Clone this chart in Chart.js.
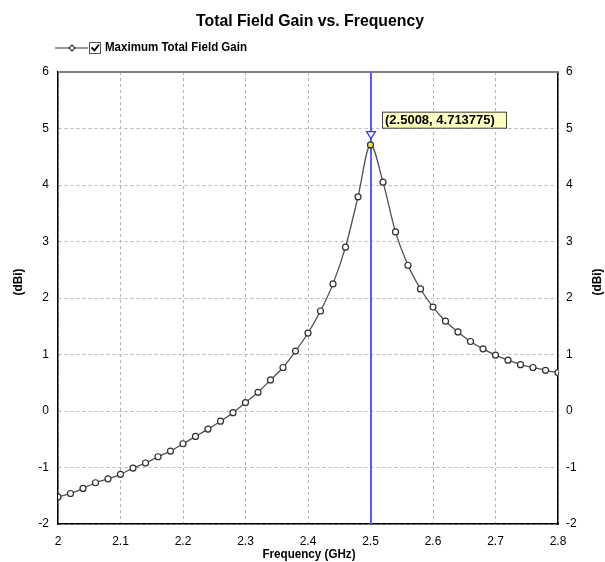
<!DOCTYPE html>
<html>
<head>
<meta charset="utf-8">
<script src="https://cdn.jsdelivr.net/npm/chart.js@4"></script>
<style>
  body { margin: 0; background: #fff; }
</style>
</head>
<body>
<canvas id="gainChart" width="605" height="562"></canvas>
<script>
// datos
var freqs = [2.00, 2.02, 2.04, 2.06, 2.08, 2.10, 2.12, 2.14, 2.16, 2.18,
             2.20, 2.22, 2.24, 2.26, 2.28, 2.30, 2.32, 2.34, 2.36, 2.38,
             2.40, 2.42, 2.44, 2.46, 2.48, 2.50, 2.52, 2.54, 2.56, 2.58,
             2.60, 2.62, 2.64, 2.66, 2.68, 2.70, 2.72, 2.74, 2.76, 2.78, 2.80];
var gain = [-1.52, -1.46, -1.37, -1.27, -1.20, -1.12, -1.01, -0.92, -0.81, -0.71,
            -0.58, -0.45, -0.32, -0.18, -0.03, 0.15, 0.33, 0.55, 0.77, 1.06,
            1.38, 1.77, 2.25, 2.90, 3.79, 4.71, 4.05, 3.17, 2.58, 2.16,
            1.84, 1.59, 1.40, 1.23, 1.10, 0.99, 0.90, 0.82, 0.77, 0.72, 0.68];
var xTicks = [2, 2.1, 2.2, 2.3, 2.4, 2.5, 2.6, 2.7, 2.8];
var yTicks = [-2, -1, 0, 1, 2, 3, 4, 5, 6];
var markerX = [2.5008];
var markerY = [4.713775];
var peakIndex = 25;

var puntos = freqs.map(function (f, i) { return { x: f, y: gain[i] }; });

// texto angosto (la fuente original es condensada)
function textoAngosto(ctx, txt, x, y, ancho, align) {
    var w = ctx.measureText(txt).width;
    var k = Math.min(1, ancho / w);
    ctx.save();
    ctx.translate(x, y);
    ctx.scale(k, 1);
    ctx.textAlign = align;
    ctx.fillText(txt, 0, 0);
    ctx.restore();
}

// dibujo de titulo, leyenda, marcador, etc.
var extras = {
    id: 'extras',
    beforeDatasetsDraw: function (chart) {
        var ctx = chart.ctx, a = chart.chartArea;
        var mx = chart.scales.x.getPixelForValue(markerX[0]);
        ctx.save();
        // borde superior gris
        ctx.strokeStyle = '#808080';
        ctx.lineWidth = 2;
        ctx.beginPath();
        ctx.moveTo(a.left, a.top);
        ctx.lineTo(a.right, a.top);
        ctx.stroke();
        // linea vertical del marcador
        ctx.strokeStyle = '#5a5aff';
        ctx.lineWidth = 2;
        ctx.beginPath();
        ctx.moveTo(mx, a.top);
        ctx.lineTo(mx, a.bottom);
        ctx.stroke();
        ctx.restore();
    },
    afterDatasetsDraw: function (chart) {
        var ctx = chart.ctx;
        var mx = chart.scales.x.getPixelForValue(markerX[0]);
        var my = chart.scales.y.getPixelForValue(markerY[0]);
        ctx.save();
        // triangulo
        ctx.strokeStyle = '#3030ff';
        ctx.fillStyle = '#ffffff';
        ctx.lineWidth = 1.2;
        ctx.beginPath();
        ctx.moveTo(mx - 4.5, my - 13);
        ctx.lineTo(mx + 4.5, my - 13);
        ctx.lineTo(mx, my - 6);
        ctx.closePath();
        ctx.fill();
        ctx.stroke();
        // etiqueta amarilla
        var txt = '(' + markerX[0] + ', ' + markerY[0] + ')';
        ctx.font = 'bold 13px Arial';
        var w = 124;
        var bx = mx + 11, by = my - 33;
        ctx.fillStyle = '#ffffc0';
        ctx.fillRect(bx, by, w, 16);
        ctx.strokeStyle = '#404040';
        ctx.lineWidth = 1;
        ctx.strokeRect(bx + 0.5, by + 0.5, w, 16);
        ctx.fillStyle = '#000';
        ctx.textBaseline = 'middle';
        textoAngosto(ctx, txt, bx + 3, by + 8.5, 118, 'left');
        ctx.restore();
    },
    afterDraw: function (chart) {
        var ctx = chart.ctx;
        ctx.save();
        ctx.fillStyle = '#000';
        ctx.textBaseline = 'alphabetic';
        // titulo
        ctx.font = 'bold 17px Arial';
        textoAngosto(ctx, 'Total Field Gain vs. Frequency', 310, 26, 228, 'center');
        ctx.textBaseline = 'middle';
        // titulo eje x
        ctx.font = 'bold 12px Arial';
        textoAngosto(ctx, 'Frequency (GHz)', 309, 555, 93, 'center');
        // titulos eje y
        ctx.save();
        ctx.translate(19, 282);
        ctx.rotate(-Math.PI / 2);
        textoAngosto(ctx, '(dBi)', 0, 0, 27, 'center');
        ctx.restore();
        ctx.save();
        ctx.translate(598, 282);
        ctx.rotate(-Math.PI / 2);
        textoAngosto(ctx, '(dBi)', 0, 0, 27, 'center');
        ctx.restore();
        // leyenda
        ctx.strokeStyle = '#333';
        ctx.lineWidth = 1.2;
        ctx.beginPath();
        ctx.moveTo(55, 48);
        ctx.lineTo(88, 48);
        ctx.stroke();
        ctx.fillStyle = '#fff';
        ctx.beginPath();
        ctx.moveTo(72, 45);
        ctx.lineTo(75, 48);
        ctx.lineTo(72, 51);
        ctx.lineTo(69, 48);
        ctx.closePath();
        ctx.fill();
        ctx.stroke();
        ctx.strokeStyle = '#555';
        ctx.lineWidth = 1;
        ctx.strokeRect(89.5, 42.5, 11, 11);
        ctx.strokeStyle = '#000';
        ctx.lineWidth = 1.8;
        ctx.beginPath();
        ctx.moveTo(91.5, 47.5);
        ctx.lineTo(94.5, 50.5);
        ctx.lineTo(99, 44.5);
        ctx.stroke();
        ctx.fillStyle = '#000';
        ctx.font = 'bold 12px Arial';
        textoAngosto(ctx, 'Maximum Total Field Gain', 105, 48, 142, 'left');
        ctx.restore();
    }
};

var fuenteTicks = { family: 'Arial', size: 12 };

var gainCtx = document.getElementById('gainChart').getContext('2d');
var gainChart = new Chart(gainCtx, {
    type: 'line',
    data: {
        datasets: [{
            label: 'Maximum Total Field Gain',
            data: puntos,
            borderColor: '#505050',
            borderWidth: 1.3,
            cubicInterpolationMode: 'monotone',
            pointRadius: 3,
            pointBorderWidth: 1.2,
            pointBorderColor: '#303030',
            pointBackgroundColor: function (c) {
                return c.dataIndex === peakIndex ? '#f0e040' : '#ffffff';
            },
            pointStyle: 'circle',
            yAxisID: 'y'
        }]
    },
    options: {
        responsive: false,
        animation: false,
        layout: { padding: { top: 72, left: 0, right: 0, bottom: 0 } },
        plugins: {
            legend: { display: false },
            title: { display: false },
            tooltip: { enabled: false }
        },
        scales: {
            x: {
                type: 'linear',
                min: 2,
                max: 2.8,
                afterFit: function (s) { s.height = 38; },
                afterBuildTicks: function (s) {
                    s.ticks = xTicks.map(function (v) { return { value: v }; });
                },
                grid: { color: '#b4b4b4', lineWidth: 1, drawTicks: false },
                border: { display: true, color: '#000', width: 1.5, dash: [3, 3] },
                ticks: {
                    color: '#000',
                    font: fuenteTicks,
                    padding: 10,
                    maxRotation: 0,
                    callback: function (v) { return String(Math.round(v * 10) / 10); }
                }
            },
            y: {
                position: 'left',
                min: -2,
                max: 6,
                afterFit: function (s) { s.width = 58; },
                afterBuildTicks: function (s) {
                    s.ticks = yTicks.map(function (v) { return { value: v }; });
                },
                grid: { color: '#b4b4b4', lineWidth: 1, drawTicks: false },
                border: { display: true, color: '#000', width: 1.5, dash: [3, 3] },
                ticks: { color: '#000', font: fuenteTicks, padding: 9 }
            },
            y2: {
                position: 'right',
                min: -2,
                max: 6,
                afterFit: function (s) { s.width = 47; },
                afterBuildTicks: function (s) {
                    s.ticks = yTicks.map(function (v) { return { value: v }; });
                },
                grid: { drawOnChartArea: false, drawTicks: false },
                border: { display: true, color: '#000', width: 1.5 },
                ticks: { color: '#000', font: fuenteTicks, padding: 8 }
            }
        }
    },
    plugins: [extras]
});
</script>
</body>
</html>
